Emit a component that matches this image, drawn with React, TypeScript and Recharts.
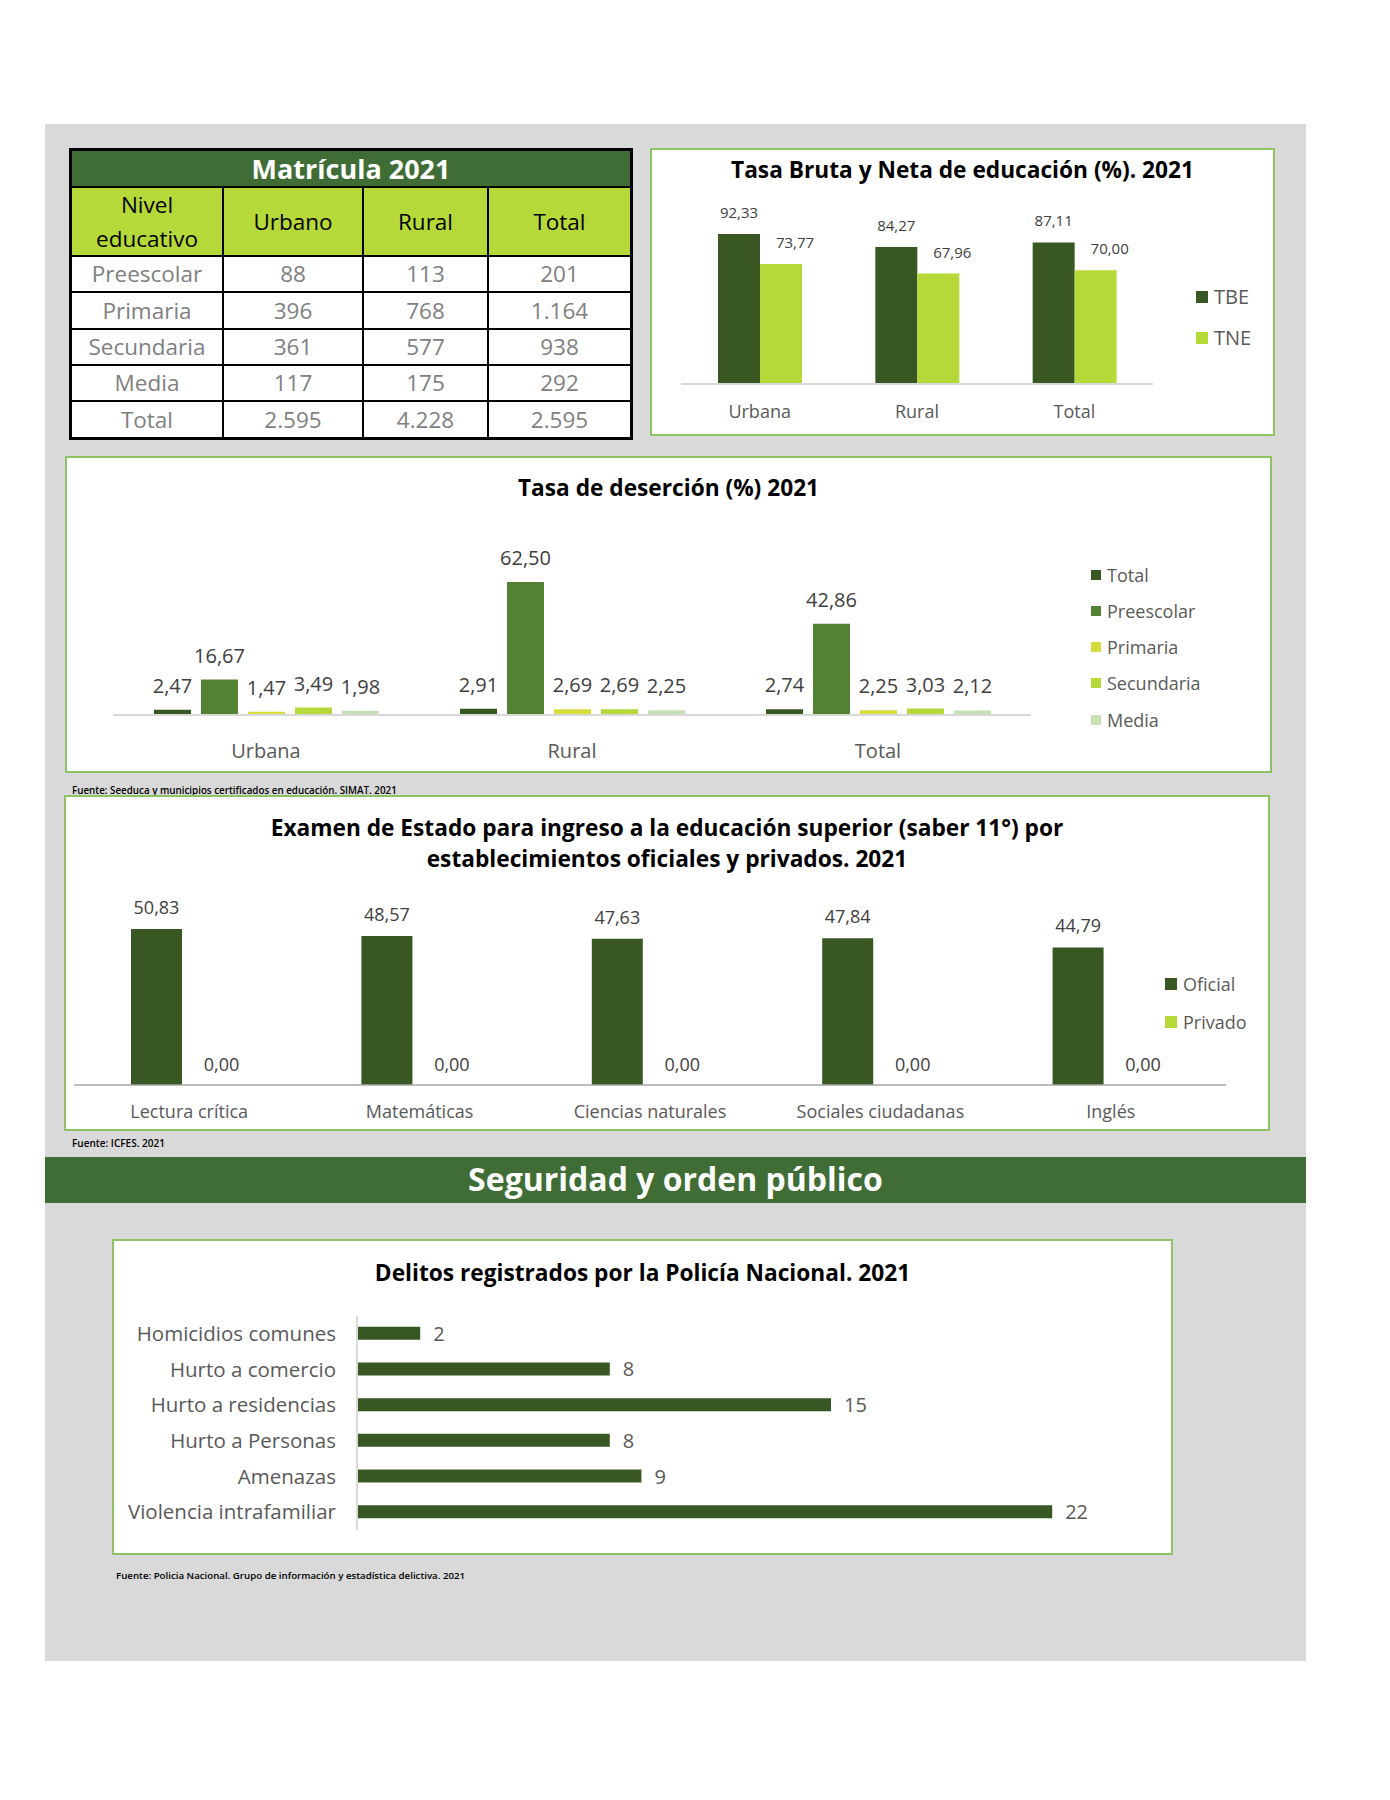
import React from 'react';
import { BarChart, Bar, XAxis, YAxis, LabelList } from 'recharts';

const FONT = '"Open Sans", "Noto Sans", sans-serif';

// Matrícula 2021
const niveles = ['Preescolar', 'Primaria', 'Secundaria', 'Media', 'Total'];
const matriculaUrbano = [88, 396, 361, 117, 2595];
const matriculaRural = [113, 768, 577, 175, 4228];
const matriculaTotal = [201, 1164, 938, 292, 2595];

// Tasa bruta y neta (%)
const zonas = ['Urbana', 'Rural', 'Total'];
const tbe = [92.33, 84.27, 87.11];
const tne = [73.77, 67.96, 70.0];

// Tasa de deserción (%)
const desercionSeries = ['Total', 'Preescolar', 'Primaria', 'Secundaria', 'Media'];
const desercionTotal = [2.47, 2.91, 2.74];
const desercionPreescolar = [16.67, 62.5, 42.86];
const desercionPrimaria = [1.47, 2.69, 2.25];
const desercionSecundaria = [3.49, 2.69, 3.03];
const desercionMedia = [1.98, 2.25, 2.12];

// Saber 11
const areas = ['Lectura crítica', 'Matemáticas', 'Ciencias naturales', 'Sociales ciudadanas', 'Inglés'];
const oficial = [50.83, 48.57, 47.63, 47.84, 44.79];
const privado = [0, 0, 0, 0, 0];

// Delitos
const delitos = ['Homicidios comunes', 'Hurto a comercio', 'Hurto a residencias', 'Hurto a Personas', 'Amenazas', 'Violencia intrafamiliar'];
const delitosCasos = [2, 8, 15, 8, 9, 22];

const DARK = '#385723';
const LIME = '#b5d938';
const colDesercion = ['#385723', '#548235', '#d5dc3b', '#b5d938', '#c5e0b4'];
const BORDER = '#8dc364';
const BAND = '#3f6d35';
const GREY_TXT = '#595959';
const LBL = '#404040';

const dec = (v: number) => v.toFixed(2).replace('.', ',');
const miles = (v: number) => String(v).replace(/\B(?=(\d{3})+(?!\d))/g, '.');

const tasaData = zonas.map((z, i) => ({ zona: z, TBE: tbe[i], TNE: tne[i] }));
const desercionData = zonas.map((z, i) => ({
  zona: z,
  Total: desercionTotal[i],
  Preescolar: desercionPreescolar[i],
  Primaria: desercionPrimaria[i],
  Secundaria: desercionSecundaria[i],
  Media: desercionMedia[i],
}));
const examenData = areas.map((a, i) => ({ area: a, Oficial: oficial[i], Privado: privado[i] }));
const delitosData = delitos.map((d, i) => ({ delito: d, casos: delitosCasos[i] }));

function rectOf(props: any) {
  const vb = props.viewBox ?? props;
  return {
    x: Number(vb.x ?? props.x),
    y: Number(vb.y ?? props.y),
    w: Number(vb.width ?? props.width),
    h: Number(vb.height ?? props.height),
  };
}

function topLabel(fontSize: number, offset: number, dx = 0) {
  return (props: any) => {
    const { x, y, w, h } = rectOf(props);
    const top = Math.min(y, y + h);
    return (
      <text x={x + w / 2 + dx} y={top - offset} textAnchor="middle" fill={LBL} fontSize={fontSize} fontFamily={FONT}>
        {dec(Number(props.value))}
      </text>
    );
  };
}

// Privado bars have zero height and get no label of their own, so the
// Oficial label also writes the Privado value next to it, on the baseline.
function examenLabel(fontSize: number, offset: number, gap: number) {
  return (props: any) => {
    const { x, y, w, h } = rectOf(props);
    const top = Math.min(y, y + h);
    const base = Math.max(y, y + h);
    const idx = Number(props.index);
    return (
      <g>
        <text x={x + w / 2} y={top - offset} textAnchor="middle" fill={LBL} fontSize={fontSize} fontFamily={FONT}>
          {dec(Number(props.value))}
        </text>
        <text x={x + w + gap + w / 2} y={base - offset + 1} textAnchor="middle" fill={LBL} fontSize={fontSize} fontFamily={FONT}>
          {dec(privado[idx] ?? 0)}
        </text>
      </g>
    );
  };
}

function rightLabel(fontSize: number, offset: number) {
  return (props: any) => {
    const { x, y, w, h } = rectOf(props);
    return (
      <text x={x + w + offset} y={y + h / 2} dominantBaseline="central" fill={GREY_TXT} fontSize={fontSize} fontFamily={FONT}>
        {props.value}
      </text>
    );
  };
}

const Txt: React.FC<{
  x: number; y: number; w?: number; h?: number; align?: 'left' | 'center' | 'right';
  size: number; weight?: number; color?: string; children: React.ReactNode;
}> = ({ x, y, w, h = 30, align = 'left', size, weight = 400, color = '#000', children }) => (
  <div
    style={{
      position: 'absolute', left: x, top: y - h / 2, width: w, height: h, lineHeight: `${h}px`,
      textAlign: align, fontSize: size, fontWeight: weight, color, whiteSpace: 'nowrap',
    }}
  >
    {children}
  </div>
);

const Box: React.FC<{ x: number; y: number; w: number; h: number }> = ({ x, y, w, h }) => (
  <div
    style={{
      position: 'absolute', left: x, top: y, width: w, height: h, background: '#fff',
      border: `2px solid ${BORDER}`, boxSizing: 'border-box',
    }}
  />
);

const Legend: React.FC<{ x: number; ys: number[]; names: string[]; colors: string[]; size: number; box: number }> = ({ x, ys, names, colors, size, box }) => (
  <>
    {names.map((n, i) => (
      <div key={n} style={{ position: 'absolute', left: x, top: ys[i] - 15, height: 30, display: 'flex', alignItems: 'center' }}>
        <div style={{ width: box, height: box, background: colors[i], marginRight: 6 }} />
        <span style={{ fontSize: size, color: GREY_TXT, lineHeight: '30px' }}>{n}</span>
      </div>
    ))}
  </>
);

const cell = (bg: string, color: string, size: number, weight = 400): React.CSSProperties => ({
  background: bg, color, fontSize: size, fontWeight: weight, display: 'flex',
  alignItems: 'center', justifyContent: 'center', textAlign: 'center', lineHeight: '34px',
});

const MatriculaTable = () => (
  <div
    style={{
      position: 'absolute', left: 69, top: 148, width: 564, height: 292, boxSizing: 'border-box',
      background: '#000', padding: 3, display: 'grid', gap: 2,
      gridTemplateColumns: '150px 138px 123px 141px',
      gridTemplateRows: '35px 67px 34px 35px 34px 34px 35px',
    }}
  >
    <div style={{ ...cell(BAND, '#fff', 27, 700), gridColumn: '1 / 5' }}>Matrícula 2021</div>
    <div style={cell(LIME, '#000', 22.5)}>Nivel<br />educativo</div>
    <div style={cell(LIME, '#000', 22.5)}>Urbano</div>
    <div style={cell(LIME, '#000', 22.5)}>Rural</div>
    <div style={cell(LIME, '#000', 22.5)}>Total</div>
    {niveles.map((n, i) => (
      <React.Fragment key={n}>
        <div style={cell('#fff', '#808080', 22.5)}>{n}</div>
        <div style={cell('#fff', '#808080', 22.5)}>{miles(matriculaUrbano[i])}</div>
        <div style={cell('#fff', '#808080', 22.5)}>{miles(matriculaRural[i])}</div>
        <div style={cell('#fff', '#808080', 22.5)}>{miles(matriculaTotal[i])}</div>
      </React.Fragment>
    ))}
  </div>
);

const axisTick = (size: number) => ({ fill: GREY_TXT, fontSize: size, fontFamily: FONT });

export default function App() {
  return (
    <div style={{ position: 'absolute', left: 0, top: 0, width: 1390, height: 1800, background: '#fff', fontFamily: FONT, overflow: 'hidden' }}>
      <div style={{ position: 'absolute', left: 45, top: 124, width: 1261, height: 1537, background: '#d9d9d9' }} />

      <MatriculaTable />

      {/* Tasa bruta y neta */}
      <Box x={650} y={148} w={625} h={288} />
      <Txt x={650} y={170} w={625} align="center" size={22.7} weight={700}>Tasa Bruta y Neta de educación (%). 2021</Txt>
      <div style={{ position: 'absolute', left: 650, top: 200 }}>
        <BarChart width={625} height={236} data={tasaData} margin={{ top: 21.5, right: 122, bottom: 12, left: 31 }} barGap={0}>
          <XAxis dataKey="zona" tickLine={false} axisLine={{ stroke: '#d9d9d9', strokeWidth: 2 }} tick={axisTick(18)} tickMargin={15} height={40} interval={0} />
          <YAxis hide domain={[0, 100]} />
          <Bar dataKey="TBE" fill={DARK} barSize={42} isAnimationActive={false}>
            <LabelList dataKey="TBE" content={topLabel(15, 16)} />
          </Bar>
          <Bar dataKey="TNE" fill={LIME} barSize={42} isAnimationActive={false}>
            <LabelList dataKey="TNE" content={topLabel(15, 16, 14)} />
          </Bar>
        </BarChart>
      </div>
      <Legend x={1196} ys={[297, 338]} names={['TBE', 'TNE']} colors={[DARK, LIME]} size={20} box={12} />

      {/* Tasa de deserción */}
      <Box x={65} y={456} w={1207} h={317} />
      <Txt x={65} y={488} w={1207} align="center" size={22.7} weight={700}>Tasa de deserción (%) 2021</Txt>
      <div style={{ position: 'absolute', left: 65, top: 540 }}>
        <BarChart width={1207} height={233} data={desercionData} margin={{ top: 26, right: 241, bottom: 13, left: 48 }} barGap={10}>
          <XAxis dataKey="zona" tickLine={false} axisLine={{ stroke: '#d9d9d9', strokeWidth: 2 }} tick={axisTick(20)} tickMargin={23} height={45} interval={0} />
          <YAxis hide domain={[0, 70]} />
          {desercionSeries.map((s, i) => (
            <Bar key={s} dataKey={s} fill={colDesercion[i]} barSize={37} isAnimationActive={false}>
              <LabelList dataKey={s} content={topLabel(20, 17)} />
            </Bar>
          ))}
        </BarChart>
      </div>
      <Legend x={1091} ys={[575, 611, 647, 683, 720]} names={desercionSeries} colors={colDesercion} size={18} box={10} />

      <Txt x={72} y={791} size={9.8} weight={600} h={12}>Fuente: Seeduca y municipios certificados en educación. SIMAT. 2021</Txt>

      {/* Saber 11 */}
      <Box x={64} y={795} w={1206} h={336} />
      <Txt x={64} y={828} w={1206} align="center" size={22.7} weight={700}>Examen de Estado para ingreso a la educación superior (saber 11°) por</Txt>
      <Txt x={64} y={859} w={1206} align="center" size={22.7} weight={700}>establecimientos oficiales y privados. 2021</Txt>
      <div style={{ position: 'absolute', left: 64, top: 880 }}>
        <BarChart width={1206} height={251} data={examenData} margin={{ top: 20.8, right: 44, bottom: 10, left: 10 }} barGap={14}>
          <XAxis dataKey="area" tickLine={false} axisLine={{ stroke: '#a6a6a6', strokeWidth: 1.5 }} tick={axisTick(18)} tickMargin={14} height={36} interval={0} />
          <YAxis hide domain={[0, 60]} />
          <Bar dataKey="Oficial" fill={DARK} barSize={51} isAnimationActive={false}>
            <LabelList dataKey="Oficial" content={examenLabel(18, 15, 14)} />
          </Bar>
          <Bar dataKey="Privado" fill={LIME} barSize={51} isAnimationActive={false} />
        </BarChart>
      </div>
      <Legend x={1165} ys={[984, 1022]} names={['Oficial', 'Privado']} colors={[DARK, LIME]} size={18} box={12} />

      <Txt x={72} y={1143} size={10} weight={600} h={12}>Fuente: ICFES. 2021</Txt>

      {/* Seguridad */}
      <div style={{ position: 'absolute', left: 45, top: 1157, width: 1261, height: 46, background: BAND }} />
      <Txt x={45} y={1179} w={1261} h={46} align="center" size={32} weight={700} color="#fff">Seguridad y orden público</Txt>

      <Box x={112} y={1239} w={1061} h={316} />
      <Txt x={112} y={1273} w={1061} align="center" size={22.7} weight={700}>Delitos registrados por la Policía Nacional. 2021</Txt>
      <div style={{ position: 'absolute', left: 112, top: 1300 }}>
        <BarChart width={1061} height={255} data={delitosData} layout="vertical" margin={{ top: 15.7, right: 26, bottom: 25, left: 0 }}>
          <XAxis type="number" hide domain={[0, 25]} />
          <YAxis type="category" dataKey="delito" width={245} tickLine={false} axisLine={{ stroke: '#d9d9d9', strokeWidth: 2 }} tick={axisTick(20.5)} tickMargin={15} interval={0} />
          <Bar dataKey="casos" fill={DARK} barSize={13} isAnimationActive={false}>
            <LabelList dataKey="casos" content={rightLabel(20, 13)} />
          </Bar>
        </BarChart>
      </div>

      <Txt x={116} y={1576} size={9.7} weight={600} h={12}>Fuente: Policia Nacional. Grupo de información y estadística delictiva. 2021</Txt>
    </div>
  );
}
